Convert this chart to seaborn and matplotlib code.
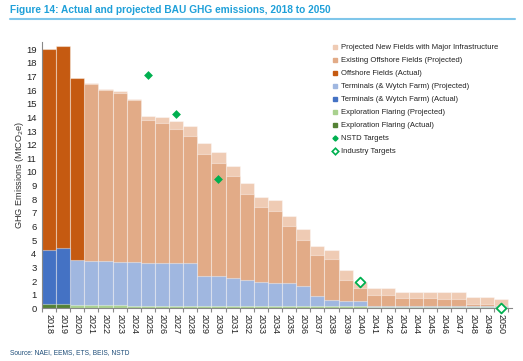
import matplotlib
matplotlib.use("Agg")
import matplotlib.pyplot as plt
from matplotlib.lines import Line2D
import seaborn as sns
import numpy as np
import pandas as pd

sns.set_style("white")
plt.rcParams['font.family'] = ['Liberation Sans', 'DejaVu Sans']

years = [str(y) for y in range(2018, 2051)]

flaring_actual = [0.3, 0.3, 0, 0, 0, 0, 0, 0, 0, 0, 0, 0, 0, 0, 0, 0, 0,
                  0, 0, 0, 0, 0, 0, 0, 0, 0, 0, 0, 0, 0, 0, 0, 0]
flaring_proj = [0, 0, 0.25, 0.25, 0.25, 0.22, 0.2, 0.2, 0.2, 0.2, 0.2, 0.2,
                0.2, 0.2, 0.2, 0.18, 0.18, 0.18, 0.17, 0.17, 0.16, 0.16, 0.15,
                0.12, 0.12, 0.12, 0.12, 0.12, 0.12, 0.12, 0.12, 0.12, 0.12]
terminals_actual = [4.0, 4.1, 0, 0, 0, 0, 0, 0, 0, 0, 0, 0, 0, 0, 0, 0, 0,
                    0, 0, 0, 0, 0, 0, 0, 0, 0, 0, 0, 0, 0, 0, 0, 0]
terminals_proj = [0, 0, 3.3, 3.2, 3.2, 3.2, 3.2, 3.13, 3.13, 3.12, 3.12, 2.17,
                  2.15, 2.0, 1.9, 1.72, 1.66, 1.64, 1.43, 0.75, 0.47, 0.41, 0.42,
                  0.05, 0.05, 0.05, 0.05, 0.05, 0.05, 0.05, 0.05, 0.05, 0.05]
offshore_actual = [14.7, 14.8, 13.35, 0, 0, 0, 0, 0, 0, 0, 0, 0, 0, 0, 0, 0, 0,
                   0, 0, 0, 0, 0, 0, 0, 0, 0, 0, 0, 0, 0, 0, 0, 0]
existing_proj = [0, 0, 0, 13.0, 12.55, 12.4, 11.85, 10.47, 10.27, 9.85, 9.33,
                 8.92, 8.3, 7.48, 6.28, 5.5, 5.31, 4.24, 3.43, 3.0, 2.96, 1.51,
                 0.94, 0.82, 0.82, 0.61, 0.61, 0.58, 0.51, 0.51, 0.17, 0.17, 0.05]
new_fields = [0, 0, 0, 0.05, 0.1, 0.1, 0.1, 0.3, 0.45, 0.53, 0.69, 0.81, 0.79,
              0.78, 0.81, 0.76, 0.78, 0.73, 0.76, 0.65, 0.67, 0.7, 0.44, 0.49,
              0.49, 0.44, 0.44, 0.47, 0.48, 0.48, 0.49, 0.49, 0.45]

nstd_years = ["2025", "2027", "2030"]
nstd_values = [17.1, 14.25, 9.5]
industry_years = ["2040", "2050"]
industry_values = [1.9, 0.0]

series = [
    ("Exploration Flaring (Actual)", flaring_actual, "#548235"),
    ("Exploration Flaring (Projected)", flaring_proj, "#a9d18e"),
    ("Terminals (& Wytch Farm) (Actual)", terminals_actual, "#4472c4"),
    ("Terminals (& Wytch Farm) (Projected)", terminals_proj, "#a0b7e0"),
    ("Offshore Fields (Actual)", offshore_actual, "#c55a11"),
    ("Existing Offshore Fields (Projected)", existing_proj, "#e2ab87"),
    ("Projected New Fields with Major Infrastructure", new_fields, "#efcbb4"),
]

df = pd.DataFrame({name: vals for name, vals, _ in series})
df["year"] = years
cum = df[[s[0] for s in series]].cumsum(axis=1)

fig = plt.figure(figsize=(5.23, 3.61), dpi=100)
ax = fig.add_axes([0.0803, 0.146, 0.899, 0.7385])

# overlapping cumulative bars, top layer first
for name, vals, color in reversed(series):
    heights = cum[name].where(df[name] > 0)
    sns.barplot(x=df["year"], y=heights, color=color, saturation=1,
                width=1.0, errorbar=None, edgecolor=(1, 1, 1, 0.4),
                linewidth=0.8, ax=ax, order=years)

sns.stripplot(x=nstd_years, y=nstd_values, order=years, jitter=False,
              marker="D", size=4.5, color="#00b050", linewidth=0, ax=ax,
              zorder=5)
sns.stripplot(x=industry_years, y=industry_values, order=years, jitter=False,
              marker="D", size=5, color="white", edgecolor="#00b050",
              linewidth=1.3, ax=ax, zorder=5, clip_on=False)

ax.set_xlim(-0.5, 32.8)
ax.set_ylim(0, 19.55)
ax.set_yticks(range(0, 20))
ax.set_xlabel("")
ax.set_ylabel("GHG Emissions (MtCO$_2$e)", fontsize=6.6, color="#333333",
              labelpad=0)
ax.tick_params(axis="y", length=0, labelsize=6.8, labelcolor="#222222", pad=4)
ax.tick_params(axis="x", which="major", length=0, labelsize=6.5,
               labelrotation=-90, labelcolor="#222222", pad=4)
ax.set_xticks(np.arange(-0.5, 33, 1), minor=True)
ax.tick_params(axis="x", which="minor", length=3, color="#888888", width=0.8,
               bottom=True)
for side in ["top", "right"]:
    ax.spines[side].set_visible(False)
ax.spines["left"].set_color("#888888")
ax.spines["bottom"].set_color("#888888")
ax.spines["left"].set_linewidth(0.8)
ax.spines["bottom"].set_linewidth(0.8)

handles = [Line2D([], [], marker="s", linestyle="", color=c, markersize=3.3,
                  label=n) for n, _, c in reversed(series)]
handles.append(Line2D([], [], marker="D", linestyle="", color="#00b050",
                      markersize=2.6, label="NSTD Targets"))
handles.append(Line2D([], [], marker="D", linestyle="", markerfacecolor="white",
                      markeredgecolor="#00b050", markeredgewidth=1.2,
                      markersize=3.3, label="Industry Targets"))
fig.legend(handles=handles, loc="upper left",
           bbox_to_anchor=(333 / 523, 1 - 44 / 361), frameon=False,
           fontsize=5.5, labelspacing=0.74, handlelength=0.6,
           handletextpad=0.45, borderpad=0, borderaxespad=0,
           labelcolor="#222222")

fig.text(10 / 523, 1 - 10 / 361, "Figure 14: Actual and projected BAU GHG emissions, 2018 to 2050",
         fontsize=7.3, fontweight="bold", color="#1fa0d9", va="center", ha="left")
fig.add_artist(Line2D([10 / 523, 515 / 523], [1 - 19 / 361, 1 - 19 / 361],
                      color="#7fc6ea", linewidth=1.5))
fig.text(10 / 523, 1 - 353 / 361, "Source: NAEI, EEMS, ETS, BEIS, NSTD",
         fontsize=4.8, color="#1f4e79", va="center", ha="left")

fig.savefig("out.png", dpi=100)
